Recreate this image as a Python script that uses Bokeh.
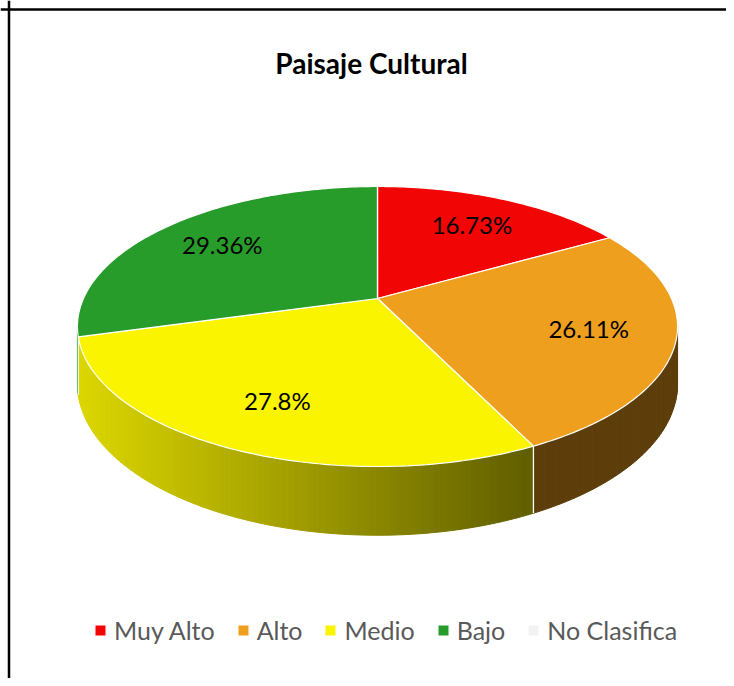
import math
from bokeh.plotting import figure
from bokeh.models import Range1d, Span, Label, Legend, LegendItem
from bokeh.core.properties import value
from bokeh.embed import file_html
from bokeh.resources import INLINE

# ---- data ----
categories = ["Muy Alto", "Alto", "Medio", "Bajo", "No Clasifica"]
percentages = [16.73, 26.11, 27.8, 29.36, 0.0]
colors = ["#F20505", "#EF9F1E", "#FAF400", "#289C2A", "#F2F2F2"]
title_text = "Paisaje Cultural"

# ---- projection of the 3-D pie (screen pixel space) ----
CX, CY = 377.0, 298.0     # apex of the top face
A, B = 294.0, 134.4       # horizontal / vertical radii
K = 0.2                   # perspective strength
T = 55.0                  # thickness of the pie


def proj(theta_deg, r=1.0, drop=0.0):
    t = math.radians(theta_deg)
    f = 1.0 + K * r * math.cos(t)
    x = CX + A * r * math.sin(t) / f
    y = CY - B * r * math.cos(t) / f + drop / f
    return x, y


def hex2rgb(h):
    h = h.lstrip("#")
    return tuple(int(h[i:i + 2], 16) for i in (0, 2, 4))


def shade(h, x):
    # side lighting: lighter on the left, darker on the right
    s = 0.39 + 0.49 * min(max((527.0 - x) / 447.0, 0.0), 1.0)
    r, g, b = hex2rgb(h)
    return "#%02x%02x%02x" % (int(r * s), int(g * s), int(b * s))


total = sum(percentages)
starts, ends = [], []
acc = 0.0
for v in percentages:
    starts.append(acc / total * 360.0)
    acc += v
    ends.append(acc / total * 360.0)

TH_R = math.degrees(math.acos(-K))          # right silhouette
TH_L = 360.0 - TH_R                         # left silhouette

p = figure(width=726, height=678, output_backend="svg", toolbar_location=None,
           x_range=Range1d(0, 726), y_range=Range1d(678, 0),
           x_axis_type=None, y_axis_type=None, min_border=0)
p.grid.visible = False
p.outline_line_color = None
p.background_fill_color = "white"
p.border_fill_color = "white"

# ---- side walls ----
sx, sy, sc = [], [], []
for s0, e0, col in zip(starts, ends, colors):
    a0, a1 = max(s0, TH_R), min(e0, TH_L)
    if a1 <= a0:
        continue
    n = max(1, int((a1 - a0) / 1.0))
    for i in range(n):
        t0 = a0 + (a1 - a0) * i / n
        t1 = a0 + (a1 - a0) * (i + 1) / n
        p0, p1 = proj(t0), proj(t1)
        q1, q0 = proj(t1, drop=T), proj(t0, drop=T)
        sx.append([p0[0], p1[0], q1[0], q0[0]])
        sy.append([p0[1], p1[1], q1[1], q0[1]])
        sc.append(shade(col, (p0[0] + p1[0]) / 2))
p.patches(sx, sy, fill_color=sc, line_color=sc, line_width=1)

# white vertical edges on the side at slice boundaries
for e0 in ends[:-1]:
    if TH_R < e0 < TH_L:
        a, b = proj(e0), proj(e0, drop=T)
        p.line([a[0], b[0]], [a[1], b[1]], line_color="white", line_width=1.3)

# ---- top face ----
legend_items = []
for cat, s0, e0, col in zip(categories, starts, ends, colors):
    n = max(2, int((e0 - s0) / 1.0))
    xs, ys = [CX], [CY]
    for i in range(n + 1):
        x, y = proj(s0 + (e0 - s0) * i / n)
        xs.append(x)
        ys.append(y)
    r = p.patch(xs, ys, fill_color=col, line_color="white", line_width=1.2)
    legend_items.append(LegendItem(label=cat, renderers=[r]))

# ---- data labels ----
lx, ly, lt = [], [], []
for v, s0, e0 in zip(percentages, starts, ends):
    if v <= 0:
        continue
    x, y = proj((s0 + e0) / 2, r=0.72)
    lx.append(x)
    ly.append(y)
    lt.append(f"{v:g}%")
p.text(x=lx, y=ly, text=lt, text_font=value("Lato"), text_font_size="24px",
       text_color="black", text_align="center", text_baseline="middle")

# ---- title ----
p.add_layout(Label(x=371, y=62, text=title_text, text_font="Lato",
                   text_font_size="28px", text_font_style="bold",
                   text_color="black", text_align="center",
                   text_baseline="middle"))

# ---- frame (left and top edges visible) ----
p.add_layout(Span(location=8.5, dimension="height", line_color="black", line_width=2.5))
p.add_layout(Span(location=9, dimension="width", line_color="black", line_width=2.5))

# ---- legend ----
legend = Legend(items=legend_items, orientation="horizontal", location=(93, 33),
                glyph_width=14, glyph_height=14, label_standoff=7, spacing=21,
                padding=0, margin=0, border_line_color=None,
                background_fill_alpha=0, label_text_font="Lato",
                label_text_font_size="25px", label_text_color="#595959")
p.add_layout(legend, "center")

open("out.html", "w").write(file_html(p, INLINE))
